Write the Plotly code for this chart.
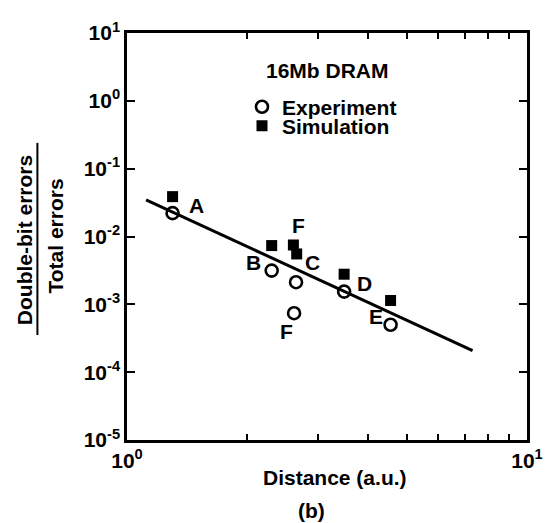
import math
import plotly.graph_objects as go

# ---- data ----
exp_x = [1.30, 2.30, 2.646, 3.49, 4.56, 2.616]
exp_y = [0.0221, 0.00314, 0.00212, 0.00154, 0.00050, 0.00074]
sim_x = [1.30, 2.30, 2.656, 3.49, 4.56, 2.606]
sim_y = [0.0387, 0.00735, 0.00553, 0.00278, 0.00114, 0.0075]
point_labels = ["A", "B", "C", "D", "E", "F"]
fit_x = [1.116, 7.31]
fit_y = [0.0347, 0.000207]
y_tickvals = [1e-5, 1e-4, 1e-3, 1e-2, 1e-1, 1e0, 1e1]
y_ticktext = ["10<sup>-5</sup>", "10<sup>-4</sup>", "10<sup>-3</sup>", "10<sup>-2</sup>",
              "10<sup>-1</sup>", "10<sup>0</sup>", "10<sup>1</sup>"]
x_tickvals = [1, 10]
x_ticktext = ["10<sup>0</sup>", "10<sup>1</sup>"]
x_minor = [2, 3, 4, 5, 6, 7, 8, 9]

FONT = dict(family="Liberation Sans, Arial, sans-serif", size=21, color="black", weight="bold")

fig = go.Figure()
fig.add_trace(go.Scatter(x=fit_x, y=fit_y, mode="lines", line=dict(color="black", width=3),
                         showlegend=False, hoverinfo="skip"))
fig.add_trace(go.Scatter(x=exp_x, y=exp_y, mode="markers", name="Experiment", legend="legend",
                         marker=dict(symbol="circle-open", size=12, color="black",
                                     line=dict(width=2.6, color="black"))))
fig.add_trace(go.Scatter(x=sim_x, y=sim_y, mode="markers", name="Simulation", legend="legend2",
                         marker=dict(symbol="square", size=11, color="black",
                                     line=dict(width=0))))

# point letter labels (offsets in pixels relative to the associated marker)
label_specs = [
    # (label index, use sim?, xshift, yshift)
    (0, False, 24, 8),
    (1, False, -18, 8),
    (2, True, 16, -9),
    (3, False, 20, 8),
    (4, False, -15, 8),
    (5, False, -8, -18),
    (5, True, 5, 19),
]
for i, use_sim, xs, ys in label_specs:
    xv = sim_x[i] if use_sim else exp_x[i]
    yv = sim_y[i] if use_sim else exp_y[i]
    fig.add_annotation(x=math.log10(xv), y=math.log10(yv),
                       xref="x", yref="y", text=point_labels[i], showarrow=False,
                       xanchor="center", yanchor="middle",
                       xshift=xs, yshift=ys, font=FONT)

def note(x, y, text, angle=0):
    fig.add_annotation(x=x, y=y, xref="paper", yref="paper", text=text, showarrow=False,
                       xanchor="center", yanchor="middle", textangle=angle, font=FONT)

note(0.5, 0.909, "16Mb DRAM")
note(0.52, -0.093, "Distance (a.u.)")
note(0.46, -0.172, "(b)")
note(-0.2575, 0.491, "Double-bit errors", -90)
note(-0.18, 0.50, "Total errors", -90)
fig.add_shape(type="line", xref="paper", yref="paper", x0=-0.224, x1=-0.224, y0=0.258, y1=0.73,
              line=dict(color="black", width=2))

fig.update_xaxes(type="log", range=[0, 1], tickmode="array", tickvals=x_tickvals,
                 ticktext=x_ticktext, ticks="inside", ticklen=7, tickwidth=2, tickcolor="black",
                 showline=True, linecolor="black", linewidth=2.5, mirror="ticks",
                 showgrid=False, zeroline=False, tickfont=FONT, automargin=False,
                 minor=dict(tickmode="array", tickvals=x_minor, ticks="inside", ticklen=6,
                            tickwidth=2, tickcolor="black", showgrid=False))
fig.update_yaxes(type="log", range=[-5, 1], tickmode="array", tickvals=y_tickvals,
                 ticktext=y_ticktext, ticks="inside", ticklen=8, tickwidth=2, tickcolor="black",
                 showline=True, linecolor="black", linewidth=2.5, mirror="ticks",
                 showgrid=False, zeroline=False, tickfont=FONT, automargin=False)

legend_common = dict(x=0.2875, xanchor="left", yanchor="middle", bgcolor="rgba(0,0,0,0)",
                     font=FONT, itemwidth=30, borderwidth=0)
fig.update_layout(
    width=546, height=523,
    margin=dict(l=127, r=19, t=33, b=83, autoexpand=False),
    paper_bgcolor="white", plot_bgcolor="white",
    font=FONT,
    legend=dict(y=0.818, **legend_common),
    legend2=dict(y=0.771, **legend_common),
)

fig.write_html("out.html", config={"displayModeBar": False},
               post_script="document.body.style.margin='0px';")
